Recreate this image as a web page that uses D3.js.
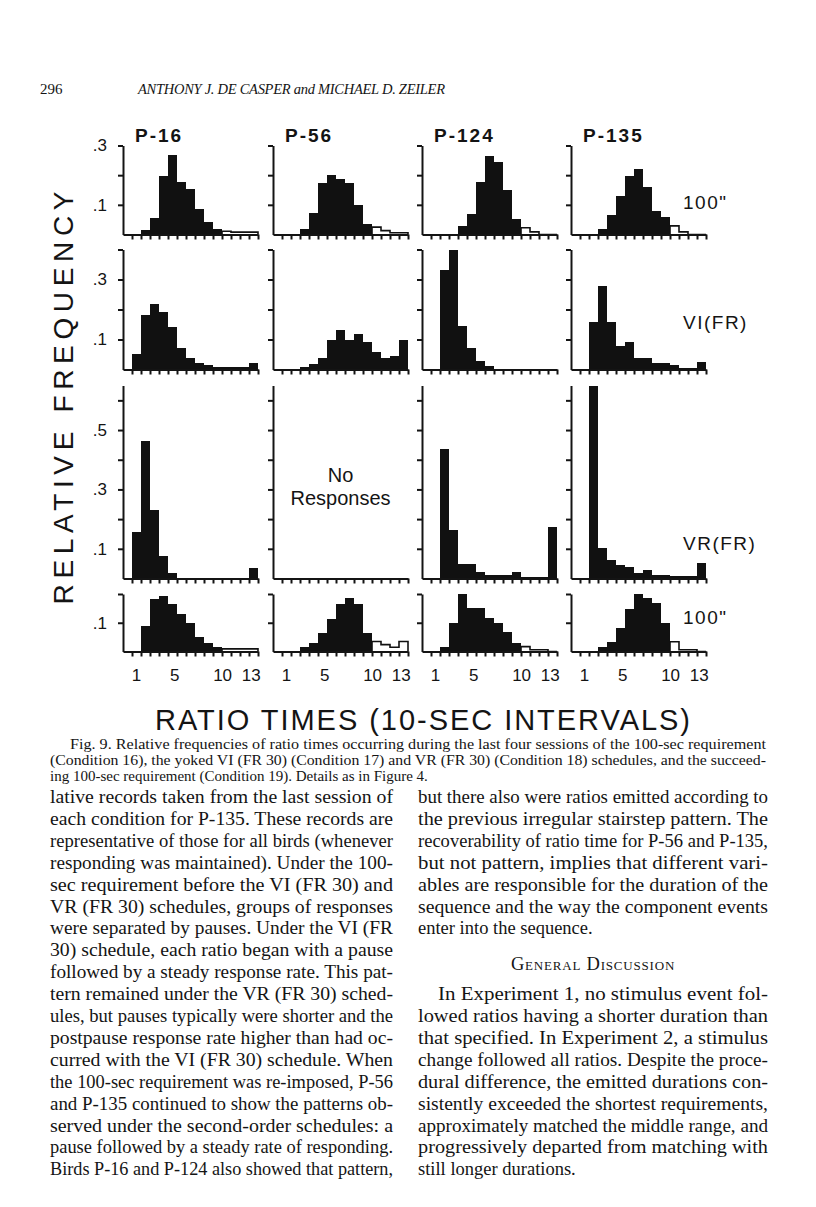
<!DOCTYPE html>
<html>
<head>
<meta charset="utf-8">
<script src="https://cdn.jsdelivr.net/npm/d3@7"></script>
<style>
  body { margin: 0; background: #fff; }
  svg text { fill: #141414; }
  .sans { font-family: "Liberation Sans", Arial, sans-serif; }
  .serif { font-family: "Liberation Serif", "Times New Roman", serif; }
  .axis path, .axis line { stroke: #141414; stroke-width: 2; }
</style>
</head>
<body>
<script>
// birds (columns) and conditions (rows)
var birds = ["P-16", "P-56", "P-124", "P-135"];
var conditions = ['100"', "VI(FR)", "VR(FR)", '100"'];
// bins 1..14 (10-sec intervals), relative frequency, one list per bird
var cond16 = [
  [0, 0.015, 0.054, 0.198, 0.268, 0.177, 0.155, 0.085, 0.042, 0.019, 0.011, 0.008, 0.008, 0.008],
  [0, 0, 0.017, 0.073, 0.175, 0.200, 0.186, 0.175, 0.098, 0.037, 0.025, 0.013, 0.006, 0.006],
  [0, 0, 0, 0.027, 0.070, 0.176, 0.264, 0.246, 0.151, 0.053, 0.023, 0.009, 0, 0],
  [0, 0, 0.018, 0.067, 0.131, 0.198, 0.220, 0.161, 0.078, 0.059, 0.029, 0.009, 0, 0]
];
var cond17 = [
  [0.051, 0.182, 0.220, 0.192, 0.142, 0.073, 0.040, 0.023, 0.016, 0.007, 0.007, 0.007, 0.007, 0.021],
  [0, 0, 0.010, 0.018, 0.038, 0.099, 0.131, 0.099, 0.118, 0.093, 0.057, 0.038, 0.046, 0.098],
  [0, 0.333, 0.400, 0.144, 0.071, 0.030, 0.013, 0.002, 0.002, 0.002, 0.002, 0.002, 0.002, 0.002],
  [0, 0.158, 0.277, 0.158, 0.080, 0.091, 0.039, 0.039, 0.022, 0.022, 0.016, 0.004, 0.004, 0.024]
];
var cond18 = [
  [0.158, 0.463, 0.231, 0.075, 0.019, 0.003, 0.003, 0.003, 0.003, 0.003, 0.003, 0.003, 0.003, 0.035],
  null, // no responses
  [0, 0.436, 0.162, 0.048, 0.048, 0.021, 0.012, 0.012, 0.012, 0.021, 0.004, 0.004, 0.004, 0.173],
  [0, 0.648, 0.103, 0.062, 0.045, 0.038, 0.019, 0.030, 0.011, 0.011, 0.008, 0.008, 0.008, 0.053]
];
var cond19 = [
  [0, 0.087, 0.181, 0.192, 0.164, 0.129, 0.099, 0.052, 0.029, 0.017, 0.009, 0.009, 0.009, 0.009],
  [0, 0, 0.015, 0.029, 0.065, 0.114, 0.166, 0.187, 0.164, 0.065, 0.035, 0.024, 0.015, 0.035],
  [0, 0.017, 0.100, 0.200, 0.152, 0.152, 0.118, 0.100, 0.069, 0.029, 0.017, 0.006, 0.006, 0],
  [0, 0, 0.017, 0.034, 0.083, 0.149, 0.200, 0.187, 0.167, 0.100, 0.034, 0.006, 0.006, 0]
];
var rowData = [cond16, cond17, cond18, cond19];
// first bin drawn open (ratios reaching the 100-sec requirement), per row
var openFrom = [11, null, null, 11];
var yMax = [0.3, 0.4, 0.65, 0.2];
var yTicks = [[0.1, 0.2, 0.3], [0.1, 0.2, 0.3, 0.4], [0.1, 0.2, 0.3, 0.4, 0.5, 0.6], [0.1, 0.2]];
var yLabels = [[0.1, 0.3], [0.1, 0.3], [0.1, 0.3, 0.5], [0.1]];
var xTickLabels = [1, 5, 10, 13];

var svg = d3.select("body").append("svg")
    .attr("width", 816)
    .attr("height", 1207);

// panel layout
var colX = [123, 273, 422, 571];
var panelW = 135;
var rowBase = [234.5, 369.5, 578.5, 651.5];
var rowTop = [145.5, 249.5, 385.5, 594];

var x = d3.scaleLinear().domain([0, 15]).range([0, panelW]);
// label positions are hand lettered, slightly stretched toward the right end
var xl = d3.scaleLinear().domain([1, 13]).range([x(1.45), x(14.2)]);

var fmt = function(v) { return d3.format(".1f")(v).replace(/^0/, ""); };

rowData.forEach(function(row, r) {
  var y = d3.scaleLinear().domain([0, yMax[r]]).range([rowBase[r], rowTop[r]]);

  row.forEach(function(vals, c) {
    var g = svg.append("g").attr("transform", "translate(" + colX[c] + ",0)");

    if (vals) {
      var bins = vals.map(function(v, i) { return {bin: i + 1, v: v}; });
      var filled = bins.filter(function(d) {
        return d.v > 0 && (openFrom[r] == null || d.bin < openFrom[r]);
      });

      g.selectAll(".bar")
        .data(filled)
        .enter().append("rect")
        .attr("class", "bar")
        .attr("x", function(d) { return x(d.bin); })
        .attr("y", function(d) { return y(d.v); })
        .attr("width", x(2) - x(1) + 0.4)
        .attr("height", function(d) { return y(0) - y(d.v); })
        .attr("fill", "#111")
        .attr("shape-rendering", "crispEdges");

      if (openFrom[r] != null) {
        var open = bins.filter(function(d) { return d.bin >= openFrom[r]; });
        var pts = [{bin: openFrom[r], v: 0}].concat(open);
        pts.push({bin: 15, v: open[open.length - 1].v});
        pts.push({bin: 15, v: 0});
        var line = d3.line()
            .x(function(d) { return x(d.bin); })
            .y(function(d) { return y(d.v); })
            .curve(d3.curveStepAfter);
        g.append("path")
          .attr("d", line(pts))
          .attr("fill", "none")
          .attr("stroke", "#111")
          .attr("stroke-width", 1.6);
      }
    } else {
      g.append("text").attr("class", "sans")
        .attr("x", panelW / 2).attr("y", 482)
        .attr("text-anchor", "middle")
        .style("font-size", "20px")
        .text("No");
      g.append("text").attr("class", "sans")
        .attr("x", panelW / 2).attr("y", 505)
        .attr("text-anchor", "middle")
        .style("font-size", "20px")
        .text("Responses");
    }

    // y axis
    var yAxis = d3.axisLeft(y)
        .tickValues(yTicks[r])
        .tickSize(5)
        .tickSizeOuter(0)
        .tickPadding(11)
        .tickFormat(function(v) {
          if (c > 0) return "";
          return yLabels[r].some(function(l) { return Math.abs(l - v) < 1e-6; }) ? fmt(v) : "";
        });
    g.append("g").attr("class", "axis sans")
      .call(yAxis)
      .call(function(s) { s.selectAll("text").style("font-size", "17px").attr("font-family", null); });

    // x axis
    var xAxis = d3.axisBottom(x)
        .tickValues(d3.range(1, 16))
        .tickSize(5)
        .tickSizeOuter(0)
        .tickFormat("");
    g.append("g").attr("class", "axis")
      .attr("transform", "translate(0," + rowBase[r] + ")")
      .call(xAxis);

    if (r == rowData.length - 1) {
      g.append("g").attr("class", "sans")
        .attr("transform", "translate(0," + rowBase[r] + ")")
        .call(d3.axisBottom(xl).tickValues(xTickLabels).tickSize(0).tickPadding(17))
        .call(function(s) {
          s.select(".domain").remove();
          s.selectAll("text").style("font-size", "17px").attr("font-family", null);
        });
    }

    // bird name over the top row
    if (r == 0) {
      g.append("text").attr("class", "sans")
        .attr("x", 12).attr("y", 141.5)
        .style("font-size", "19px").style("font-weight", "bold")
        .style("letter-spacing", "2px")
        .text(birds[c]);
    }
  });

  // condition label at the right
  svg.append("text").attr("class", "sans")
    .attr("x", 683)
    .attr("y", [209, 329, 550, 624][r])
    .style("font-size", "19px")
    .style("letter-spacing", "1.5px")
    .text(conditions[r]);
});

// axis titles
svg.append("text").attr("class", "sans")
  .attr("transform", "translate(73,398) rotate(-90)")
  .attr("text-anchor", "middle")
  .attr("textLength", 413).attr("lengthAdjust", "spacing")
  .style("font-size", "28px")
  .text("RELATIVE FREQUENCY");

svg.append("text").attr("class", "sans")
  .attr("x", 155).attr("y", 730)
  .attr("textLength", 535).attr("lengthAdjust", "spacing")
  .style("font-size", "29px")
  .text("RATIO TIMES (10-SEC INTERVALS)");

// running head
svg.append("text").attr("class", "serif")
  .attr("x", 40).attr("y", 94).style("font-size", "15px").text("296");
svg.append("text").attr("class", "serif")
  .attr("x", 138).attr("y", 94)
  .attr("textLength", 307).attr("lengthAdjust", "spacing")
  .style("font-size", "14.5px").style("font-style", "italic")
  .text("ANTHONY J. DE CASPER and MICHAEL D. ZEILER");

// caption
var caption = [
  {x: 70, w: 696, t: "Fig. 9. Relative frequencies of ratio times occurring during the last four sessions of the 100-sec requirement"},
  {x: 50, w: 716, t: "(Condition 16), the yoked VI (FR 30) (Condition 17) and VR (FR 30) (Condition 18) schedules, and the succeed-"},
  {x: 50, w: null, t: "ing 100-sec requirement (Condition 19). Details as in Figure 4."}
];
caption.forEach(function(l, i) {
  var t = svg.append("text").attr("class", "serif")
    .attr("x", l.x).attr("y", 749 + i * 16)
    .style("font-size", "15px")
    .text(l.t);
  if (l.w) t.attr("textLength", l.w).attr("lengthAdjust", "spacingAndGlyphs");
});

// body text, two columns
var leftCol = [
  "lative records taken from the last session of",
  "each condition for P-135. These records are",
  "representative of those for all birds (whenever",
  "responding was maintained). Under the 100-",
  "sec requirement before the VI (FR 30) and",
  "VR (FR 30) schedules, groups of responses",
  "were separated by pauses. Under the VI (FR",
  "30) schedule, each ratio began with a pause",
  "followed by a steady response rate. This pat-",
  "tern remained under the VR (FR 30) sched-",
  "ules, but pauses typically were shorter and the",
  "postpause response rate higher than had oc-",
  "curred with the VI (FR 30) schedule. When",
  "the 100-sec requirement was re-imposed, P-56",
  "and P-135 continued to show the patterns ob-",
  "served under the second-order schedules: a",
  "pause followed by a steady rate of responding.",
  "Birds P-16 and P-124 also showed that pattern,"
];
var rightCol = [
  {t: "but there also were ratios emitted according to"},
  {t: "the previous irregular stairstep pattern. The"},
  {t: "recoverability of ratio time for P-56 and P-135,"},
  {t: "but not pattern, implies that different vari-"},
  {t: "ables are responsible for the duration of the"},
  {t: "sequence and the way the component events"},
  {t: "enter into the sequence.", last: true},
  {t: "General Discussion", head: true},
  {t: "In Experiment 1, no stimulus event fol-", indent: true},
  {t: "lowed ratios having a shorter duration than"},
  {t: "that specified. In Experiment 2, a stimulus"},
  {t: "change followed all ratios. Despite the proce-"},
  {t: "dural difference, the emitted durations con-"},
  {t: "sistently exceeded the shortest requirements,"},
  {t: "approximately matched the middle range, and"},
  {t: "progressively departed from matching with"},
  {t: "still longer durations.", last: true}
];
var lineH = 21.9, bodyTop = 803;

leftCol.forEach(function(s, i) {
  svg.append("text").attr("class", "serif")
    .attr("x", 50).attr("y", bodyTop + i * lineH)
    .attr("textLength", 343).attr("lengthAdjust", "spacingAndGlyphs")
    .style("font-size", "18.5px")
    .text(s);
});

rightCol.forEach(function(l, i) {
  var yy = bodyTop + (i >= 8 ? i + 1 : i) * lineH;
  if (l.head) yy = 970;
  var t = svg.append("text").attr("class", "serif")
    .attr("y", yy)
    .style("font-size", "18.5px")
    .text(l.t);
  if (l.head) {
    t.attr("x", 593).attr("text-anchor", "middle")
     .style("font-variant", "small-caps").style("letter-spacing", "0.8px");
  } else if (l.last) {
    t.attr("x", 418);
  } else if (l.indent) {
    t.attr("x", 438).attr("textLength", 330).attr("lengthAdjust", "spacingAndGlyphs");
  } else {
    t.attr("x", 418).attr("textLength", 350).attr("lengthAdjust", "spacingAndGlyphs");
  }
});
</script>
</body>
</html>
